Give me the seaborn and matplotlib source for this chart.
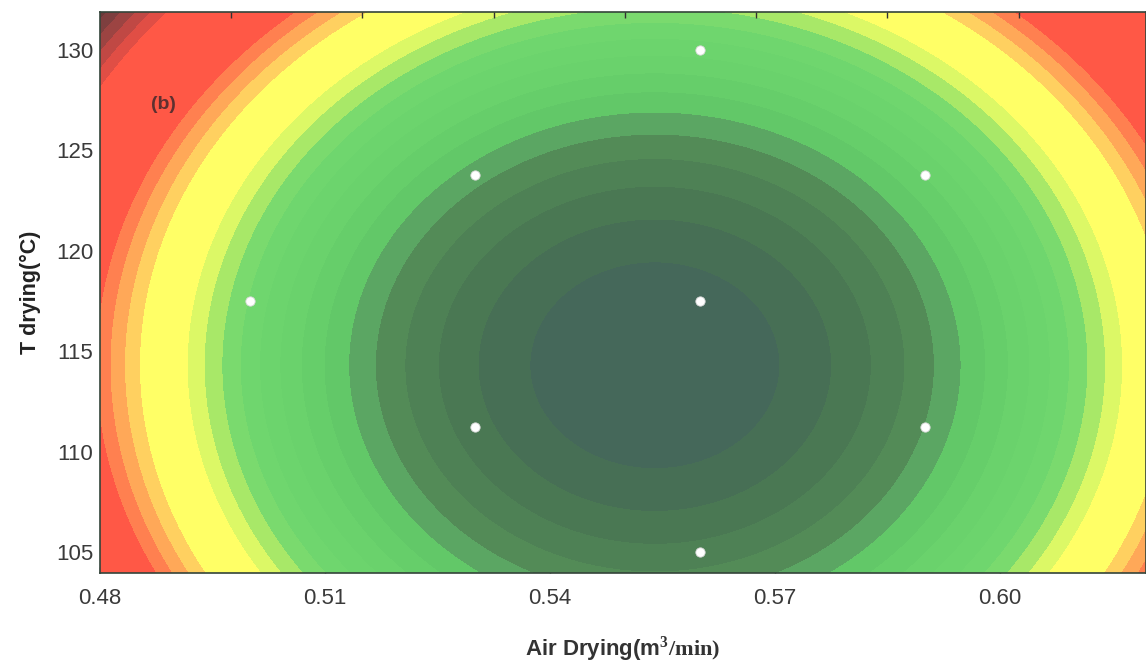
import numpy as np
import pandas as pd
import matplotlib.pyplot as plt
from matplotlib.colors import ListedColormap, BoundaryNorm
import seaborn as sns

# fitted response surface (quadratic, centred near the optimum)
x_opt = 0.554
y_opt = 114.3
x_scale = 0.01667
y_scale = 5.15

# design points of the experiment
air_points = [0.56, 0.53, 0.59, 0.50, 0.56, 0.53, 0.59, 0.56]
temp_points = [130.0, 123.8, 123.8, 117.5, 117.5, 111.2, 111.2, 105.0]

x_ticks = [0.48, 0.51, 0.54, 0.57, 0.60]
x_tick_labels = ['0.48', '0.51', '0.54', '0.57', '0.60']
y_ticks = [105, 110, 115, 120, 125, 130]
top_ticks = [0.4975, 0.515, 0.5325, 0.55, 0.5675, 0.585, 0.6025]

band_colors = ['#45685a', '#476f55', '#4a7853', '#4e8155', '#538b57', '#5ba663',
               '#62c868', '#66ce6a', '#6ad26c', '#6cd46d', '#6fd66e', '#7ada6e',
               '#a8e868', '#dcf866', '#ffff66', '#ffff66', '#ffff66', '#ffd060',
               '#ffa858', '#ff8050', '#ff5846', '#ff5846', '#ff5846', '#ff5846',
               '#ff5846', '#ff5846', '#ff5846', '#e04e45', '#c04844', '#9c4442',
               '#7e3f3f', '#6a3a3a']

sns.set_style('white')
plt.rcParams['font.family'] = ['Liberation Sans', 'DejaVu Sans']
plt.rcParams['mathtext.fontset'] = 'custom'
plt.rcParams['mathtext.rm'] = 'Liberation Serif:bold'

fig = plt.figure(figsize=(11.46, 6.69), dpi=100)
ax = fig.add_axes([100 / 1146, 1 - 573 / 669, 1046 / 1146, 561 / 669])

xlim = (0.48, 0.6195)
ylim = (103.95, 131.9)
gx = np.linspace(xlim[0], xlim[1], 600)
gy = np.linspace(ylim[0], ylim[1], 400)
X, Y = np.meshgrid(gx, gy)
Z = ((X - x_opt) / x_scale) ** 2 + ((Y - y_opt) / y_scale) ** 2

levels = np.arange(0, len(band_colors) + 1)
cmap = ListedColormap(band_colors)
cmap.set_over(band_colors[-1])
norm = BoundaryNorm(levels, cmap.N)
ax.contourf(X, Y, Z, levels=levels, cmap=cmap, norm=norm, extend='max')

df = pd.DataFrame({'air': air_points, 'temp': temp_points})
sns.scatterplot(data=df, x='air', y='temp', ax=ax, s=45, color='white',
                edgecolor='#d8d8d8', linewidth=0.6, zorder=5)

ax.text(0.4885, 127.3, '(b)', fontsize=14, fontweight='bold', color='#5e3030',
        ha='center', va='center')

ax.set_xlim(*xlim)
ax.set_ylim(*ylim)
ax.set_xticks(x_ticks)
ax.set_xticklabels(x_tick_labels)
ax.set_yticks(y_ticks)
ax.tick_params(direction='in', length=4, width=1, colors='#333333',
               labelsize=16, labelcolor='#3a3a3a')
ax.tick_params(axis='x', pad=11)
ax.tick_params(axis='y', pad=5)

ax.set_xlabel(r'Air Drying(m$^{\mathrm{3}}\mathrm{/min)}$', fontsize=16,
              fontweight='bold', color='#333333', labelpad=18)
ax.set_ylabel('T drying(°C)', fontsize=15.5, fontweight='bold', color='#222222',
              labelpad=11)

for side in ['top', 'bottom', 'left', 'right']:
    ax.spines[side].set_color('#34443a')
    ax.spines[side].set_linewidth(1.2)

top = ax.twiny()
top.set_xlim(*xlim)
top.set_xticks(top_ticks)
top.set_xticklabels([])
top.tick_params(direction='in', length=4, width=1, colors='#333333')
for side in ['top', 'bottom', 'left', 'right']:
    top.spines[side].set_visible(False)

fig.savefig('out.png', dpi=100)
